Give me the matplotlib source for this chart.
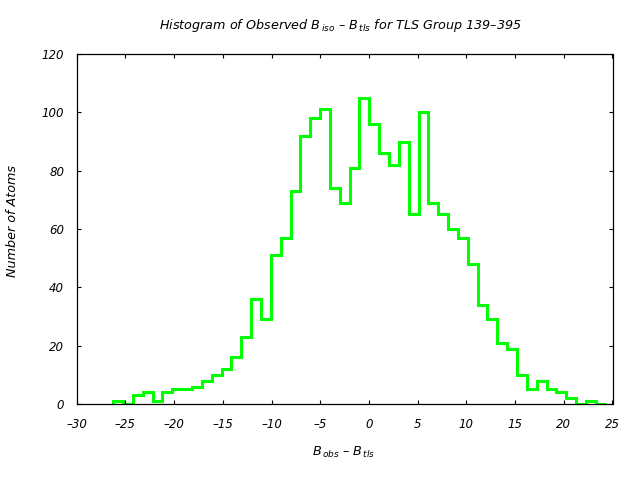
import numpy as np
import matplotlib
matplotlib.use('Agg')
import matplotlib.pyplot as plt

# histogram of B_obs - B_tls, 50 bins
bin_lo = -26.25
bin_hi = 24.3
counts = [1, 0, 3, 4, 1, 4, 5, 5, 6, 8,
          10, 12, 16, 23, 36, 29, 51, 57, 73,
          92, 98, 101, 74, 69, 81, 105, 96, 86, 82,
          90, 65, 100, 69, 65, 60, 57, 48, 34, 29,
          21, 19, 10, 5, 8, 5, 4, 2, 0, 1, 0]
xticks = [-30, -25, -20, -15, -10, -5, 0, 5, 10, 15, 20, 25]
yticks = [0, 20, 40, 60, 80, 100, 120]

edges = np.linspace(bin_lo, bin_hi, len(counts) + 1)

plt.rcParams.update({'font.family': 'DejaVu Sans', 'font.style': 'italic',
                     'mathtext.fontset': 'dejavusans', 'font.size': 8.5})

fig = plt.figure(figsize=(6.4, 4.8), dpi=100)
ax = fig.add_axes([76.7/640, 1-404/480, (612.5-76.7)/640, (404-54)/480])

ax.stairs(counts, edges, color='#00ff00', lw=2.2, baseline=0)

ax.set_xlim(-30, 25); ax.set_ylim(0, 120)
ax.set_xticks(xticks); ax.set_yticks(yticks)
ax.set_xticklabels([str(v).replace('-', '\u2013') for v in xticks])
ax.tick_params(direction='in', length=3, width=0.8, top=True, right=True,
               labelsize=8.5, colors='black')
ax.tick_params(axis='x', pad=10)
ax.tick_params(axis='y', pad=9)
for lab in ax.get_xticklabels() + ax.get_yticklabels():
    lab.set_fontstyle('italic')
for s in ax.spines.values():
    s.set_linewidth(0.9)

fig.text(340/640, 1-25/480,
         'Histogram of Observed $B_{\\,iso}$ \u2013 $B_{\\,tls}$ for TLS Group 139\u2013395',
         ha='center', va='center', fontsize=9.2)
fig.text(343.5/640, 1-452/480, '$B_{\\,obs}$ \u2013 $B_{\\,tls}$',
         ha='center', va='center', fontsize=9.2)
fig.text(13/640, 1-221/480, 'Number of Atoms', rotation=90,
         ha='center', va='center', fontsize=9.2)

fig.savefig('out.png', dpi=100)
